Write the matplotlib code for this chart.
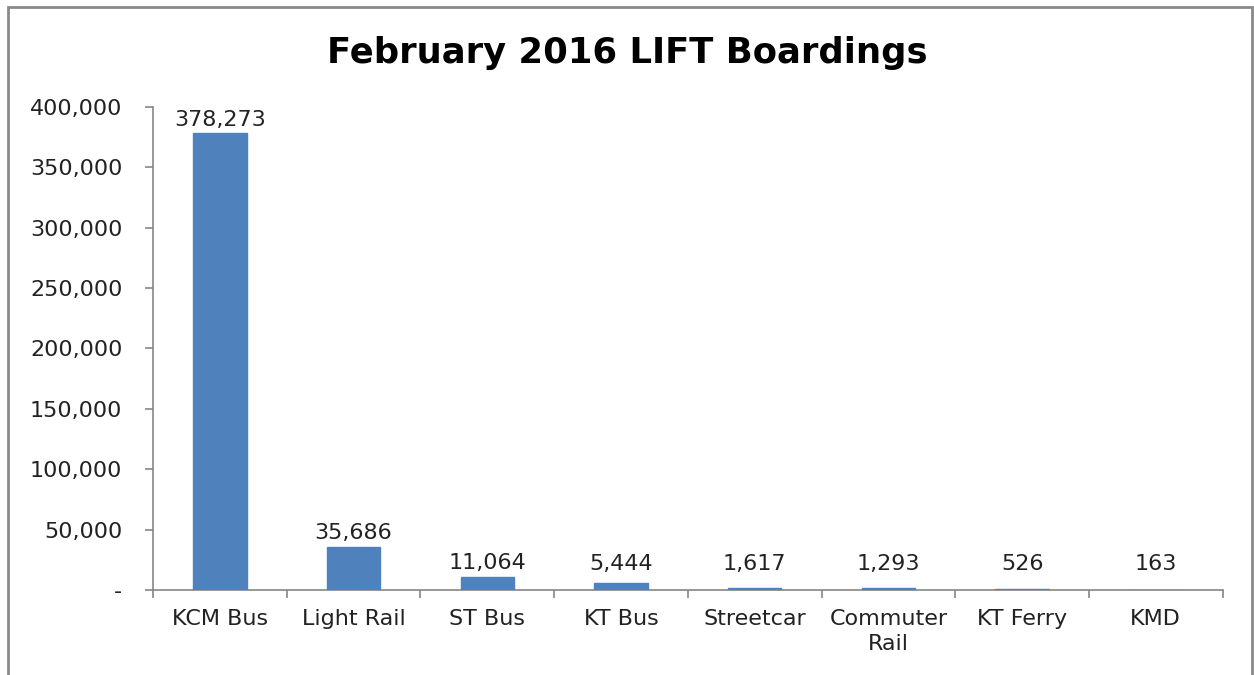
import matplotlib.pyplot as plt
from matplotlib.patches import Rectangle
from matplotlib.ticker import FuncFormatter

categories = ['KCM Bus', 'Light Rail', 'ST Bus', 'KT Bus', 'Streetcar',
              'Commuter\nRail', 'KT Ferry', 'KMD']
boardings = [378273, 35686, 11064, 5444, 1617, 1293, 526, 163]

plt.rcParams['font.family'] = ['DejaVu Sans']

fig = plt.figure(figsize=(12.54, 6.75), dpi=100)
ax = fig.add_axes([0.122, 0.126, 0.853, 0.7155])

x = range(len(categories))
ax.bar(x, boardings, width=0.4, color='#4F81BD', edgecolor='#4F81BD',
       linewidth=1, zorder=2)

# labels sit just above the bar, never lower than a small floor
for xi, v in zip(x, boardings):
    ax.text(xi, max(v, 10000) + 3000, f'{v:,}', ha='center', va='bottom',
            fontsize=16, color='#222222')

ax.set_xlim(-0.5, len(categories) - 0.5)
ax.set_ylim(0, 400000)
ax.set_yticks(range(0, 400001, 50000))
ax.yaxis.set_major_formatter(FuncFormatter(lambda v, p: '-' if v == 0 else f'{int(v):,}'))

# x ticks at category boundaries, labels centred
ax.set_xticks([i - 0.5 for i in range(len(categories) + 1)])
ax.set_xticklabels([])
ax.set_xticks(list(x), minor=True)
ax.set_xticklabels(categories, minor=True, fontsize=16, color='#222222', va='top',
                   linespacing=1.3)
ax.tick_params(axis='x', which='minor', length=0, pad=14)
ax.tick_params(axis='x', which='major', length=6, color='#868686', width=1.2)
ax.tick_params(axis='y', length=6, color='#868686', width=1.2, labelsize=16,
               labelcolor='#222222', pad=16)

for s in ['top', 'right']:
    ax.spines[s].set_visible(False)
for s in ['left', 'bottom']:
    ax.spines[s].set_color('#868686')
    ax.spines[s].set_linewidth(1.2)
    ax.spines[s].set_zorder(1)

fig.text(0.5, 0.922, 'February 2016 LIFT Boardings', ha='center', va='center',
         fontsize=25.5, fontweight='bold', color='black')

# chart frame
fig.patches.append(Rectangle((8 / 1254, -0.05), 1244 / 1254, 1 - 7 / 675 + 0.05,
                             transform=fig.transFigure, fill=False,
                             edgecolor='#8a8a8a', linewidth=2))

fig.savefig('out.png', dpi=100)
